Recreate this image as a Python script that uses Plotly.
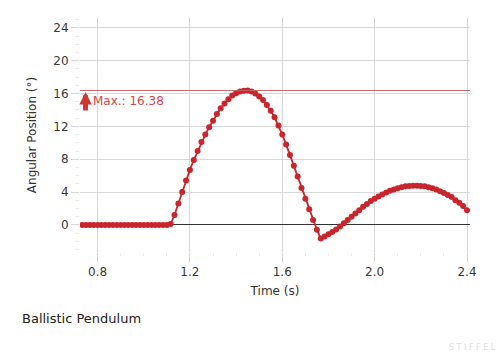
import plotly.graph_objects as go

# time samples: k/60 s for k = 44..144
frame_start = 44
frame_end = 144
frame_rate = 60.0
time_s = [k / frame_rate for k in range(frame_start, frame_end + 1)]

angle_deg = (
    [0.0] * 23 +
    [0.1, 1.2, 2.6, 4.0, 5.4, 6.7, 7.9, 9.0, 10.1, 11.0,
     11.9, 12.7, 13.5, 14.2, 14.8, 15.3, 15.75, 16.05, 16.25, 16.35,
     16.38, 16.25, 16.0, 15.65, 15.2, 14.6, 13.9, 13.1, 12.1, 11.0,
     9.8, 8.5, 7.2, 5.9, 4.5, 3.2, 1.9, 0.6, -0.6, -1.65,
     -1.4, -1.15, -0.85, -0.55, -0.2, 0.2, 0.6, 1.0, 1.4, 1.8,
     2.2, 2.55, 2.9, 3.2, 3.45, 3.7, 3.95, 4.15, 4.3, 4.45,
     4.6, 4.7, 4.75, 4.78, 4.78, 4.75, 4.7, 4.6, 4.45, 4.3,
     4.1, 3.9, 3.65, 3.4, 3.0, 2.7, 2.3, 1.8]
)

x_ticks = [0.8, 1.2, 1.6, 2.0, 2.4]
y_ticks = [0, 4, 8, 12, 16, 20, 24]
max_val = max(angle_deg)

red = "#c9252c"
fig = go.Figure()
fig.add_trace(go.Scatter(
    x=time_s, y=angle_deg, mode="lines+markers",
    line=dict(color=red, width=1.8),
    marker=dict(color=red, size=6),
    showlegend=False,
))

fig.add_shape(type="line", xref="paper", x0=0, x1=1, yref="y", y0=max_val, y1=max_val,
              line=dict(color="#c86060", width=1))

# arrow
fig.add_annotation(x=0.748, y=max_val - 0.2, xref="x", yref="y", text="", showarrow=True,
                   ax=0, ay=20, arrowhead=2, arrowsize=0.5, arrowwidth=5, arrowcolor="#d03838")
fig.add_annotation(x=0.77, y=max_val - 1.3, xref="x", yref="y", text=f"Max.: {max_val:.2f}",
                   showarrow=False, xanchor="left", yanchor="middle",
                   font=dict(family="DejaVu Sans", size=12, color="#d04848"))

fig.add_annotation(x=(20 - 80) / 390, y=(252 - 318) / 234, xref="paper", yref="paper",
                   text="Ballistic Pendulum", showarrow=False, xanchor="left", yanchor="middle",
                   font=dict(family="DejaVu Sans", size=13, color="#222"))
fig.add_annotation(x=(498 - 80) / 390, y=(252 - 347) / 234, xref="paper", yref="paper",
                   text="S T I F F E L", showarrow=False, xanchor="right", yanchor="middle",
                   font=dict(family="DejaVu Sans", size=8, color="#e0e0e0"))

fig.update_layout(
    width=500, height=355,
    margin=dict(l=80, r=30, t=18, b=103),
    paper_bgcolor="white", plot_bgcolor="white",
    font=dict(family="DejaVu Sans", size=12, color="#444"),
)
fig.update_xaxes(
    range=[0.724, 2.413], tickvals=x_ticks, ticktext=[f"{v:.1f}" for v in x_ticks],
    showgrid=True, gridcolor="#d8d8d8", gridwidth=1, zeroline=False,
    ticks="outside", ticklen=9, tickcolor="#d8d8d8",
    minor=dict(dtick=0.1, ticks="outside", ticklen=3, tickcolor="#ececec", showgrid=False),
    title=dict(text="Time (s)", font=dict(size=12, color="#333"), standoff=8),
    tickfont=dict(size=12, color="#3a3a3a"),
)
fig.update_yaxes(
    range=[-3.3, 25.2], tickvals=y_ticks, ticktext=[str(v) for v in y_ticks],
    showgrid=True, gridcolor="#d8d8d8", gridwidth=1,
    zeroline=True, zerolinecolor="#333", zerolinewidth=1,
    ticks="outside", ticklen=8, tickcolor="#d8d8d8",
    minor=dict(dtick=1, ticks="outside", ticklen=4, tickcolor="#ececec", showgrid=False),
    title=dict(text="Angular Position (°)", font=dict(size=12, color="#333"), standoff=14),
    tickfont=dict(size=12, color="#3a3a3a"),
)

fig.write_html("out.html")
